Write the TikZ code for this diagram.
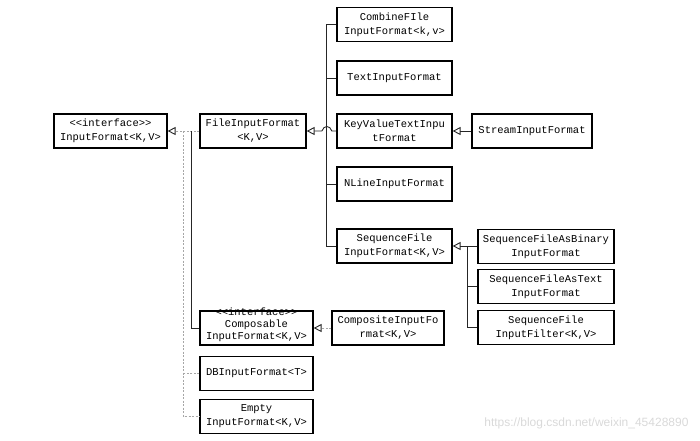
\documentclass[tikz,border=0pt]{standalone}
\usepackage{fontspec}
\setmonofont{Liberation Mono}
\setsansfont{Liberation Sans}
\usetikzlibrary{arrows.meta,calc,positioning}

\tikzset{
  cls/.style={draw, line width=1.2pt, minimum height=34pt, inner sep=2pt,
    align=center, font=\ttfamily\fontsize{10.5}{14}\selectfont},
  ext/.style={draw=black!85, line width=0.9pt},
  impl/.style={draw=gray!70, line width=0.8pt, dash pattern=on 2pt off 1.5pt},
  gen/.style={-{Triangle[open,length=8pt,width=8pt]}, arrows={[color=black!85,line width=0.9pt]}}
}

\begin{document}
\begin{tikzpicture}[x=1pt,y=-1pt]
\useasboundingbox (0,0) rectangle (700,440);

% left part
\node[cls,minimum width=113pt] (inputfmt) at (110.5,131) {<<interface>>\\InputFormat<K,V>};
\node[cls,minimum width=106pt] (fileinfmt) at (253,131) {FileInputFormat\\<K,V>};

% subclasses of FileInputFormat
\node[cls,minimum width=115pt] (combine) at (394.5,24.5) {CombineFIle\\InputFormat<k,v>};
\node[cls,minimum width=115pt] (textfmt) at (394.5,78) {TextInputFormat};
\node[cls,minimum width=115pt] (keyvalue) at (394.5,131) {KeyValueTextInpu\\tFormat};
\node[cls,minimum width=115pt] (nline) at (394.5,184) {NLineInputFormat};
\node[cls,minimum width=115pt] (seqfile) at (394.5,246) {SequenceFile\\InputFormat<K,V>};

\node[cls,minimum width=120pt] (stream) at (532,131) {StreamInputFormat};

% subclasses of SequenceFileInputFormat
\node[cls,minimum width=136pt] (seqbin) at (546,246.5) {SequenceFileAsBinary\\InputFormat};
\node[cls,minimum width=136pt] (seqtext) at (546,286.5) {SequenceFileAsText\\InputFormat};
\node[cls,minimum width=136pt] (seqfilter) at (546,327.5) {SequenceFile\\InputFilter<K,V>};

% bottom part
\node[cls,minimum width=113pt] (composable) at (256.5,328) {\raisebox{0pt}[0pt][0pt]{\def\arraystretch{0.86}\begin{tabular}{@{}c@{}}<<interface>>\\Composable\\InputFormat<K,V>\end{tabular}}};
\node[cls,minimum width=112pt] (composite) at (388,328) {CompositeInputFo\\rmat<K,V>};
\node[cls,minimum width=113pt] (dbfmt) at (256.5,373.5) {DBInputFormat<T>};
\node[cls,minimum width=113pt] (emptyfmt) at (256.5,416.5) {Empty\\InputFormat<K,V>};

% junctions
\coordinate (jdash) at ($(inputfmt.east)!0.5!(fileinfmt.west)$);
\coordinate (jsolid) at ($(inputfmt.east)!0.75!(fileinfmt.west)$);
\coordinate (filetrunk) at ($(fileinfmt.east)!0.68!(keyvalue.west)$);
\coordinate (seqtrunk) at ($(seqfile.east)!0.615!(seqfile.east -| seqbin.west)$);

% InputFormat
\draw[impl,gen] (fileinfmt.west) -- (inputfmt.east);
\draw[impl] (jdash) |- (emptyfmt.west);
\draw[impl] (dbfmt.west) -- (dbfmt.west -| jdash);
\draw[ext] (jsolid) |- (composable.west);

% FileInputFormat
\draw[ext] (combine.west) -| (filetrunk) |- (seqfile.west);
\draw[ext] (textfmt.west) -- (textfmt.west -| filetrunk);
\draw[ext] (nline.west) -- (nline.west -| filetrunk);
\draw[ext,gen] (keyvalue.west) -- ($(filetrunk)+(5,0)$)
  .. controls +(-2,-6) and +(2,-6) .. ($(filetrunk)+(-5,0)$) -- (fileinfmt.east);

\draw[ext,gen] (stream.west) -- (keyvalue.east);

% SequenceFileInputFormat
\draw[ext] (seqbin.west) -| (seqtrunk) |- (seqfilter.west);
\draw[ext] (seqtext.west) -- (seqtext.west -| seqtrunk);
\draw[ext,gen] (seqtrunk) -- (seqfile.east);

\draw[impl,gen] (composite.west) -- (composable.east);

% watermark
\node[font=\sffamily\fontsize{12}{14}\selectfont, text=gray!30, anchor=east] (mark) at (692,423) {https://blog.csdn.net/weixin\_45428890};
\end{tikzpicture}
\end{document}
